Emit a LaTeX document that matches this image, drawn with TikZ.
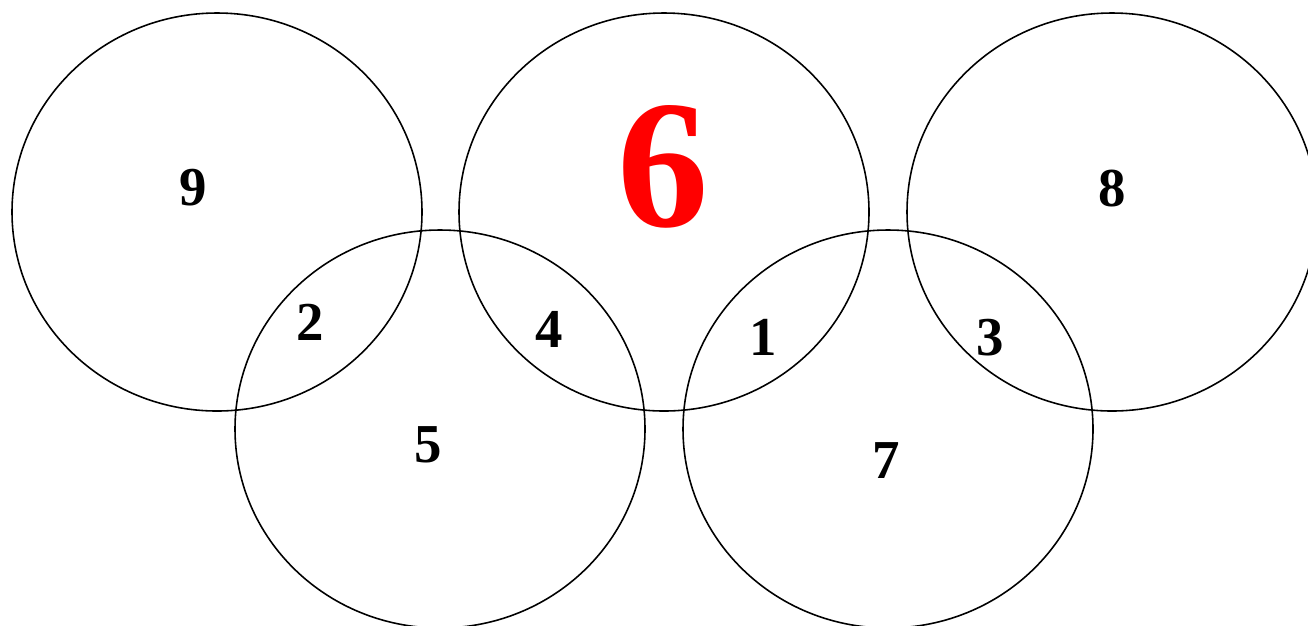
\documentclass[tikz,border=0pt]{standalone}
\usepackage{fontspec}
\setmainfont{Liberation Serif}
\tikzset{
  ring/.style={line width=0.45pt},
  num/.style={font=\fontsize{15.6}{18}\selectfont\bfseries, inner sep=0pt},
  bignum/.style={font=\fontsize{52}{56}\selectfont\bfseries, text=red, inner sep=0pt}
}
\begin{document}
\begin{tikzpicture}[scale=1.0]
\useasboundingbox (0,0) rectangle (13.08,6.25);
\draw[ring] (2.17,4.13) ellipse [x radius=2.05, y radius=1.99];
\draw[ring] (6.64,4.13) ellipse [x radius=2.05, y radius=1.99];
\draw[ring] (11.12,4.13) ellipse [x radius=2.05, y radius=1.99];
\draw[ring] (4.40,1.96) ellipse [x radius=2.05, y radius=1.99];
\draw[ring] (8.88,1.96) ellipse [x radius=2.05, y radius=1.99];

\node[num] (nine) at (1.93,4.37) {9};
\node[bignum] (six) at (6.63,4.58) {6};
\node[num] (eight) at (11.12,4.36) {8};
\node[num] (two) at (3.10,3.03) {2};
\node[num] (four) at (5.49,2.96) {4};
\node[num] (one) at (7.63,2.88) {1};
\node[num] (three) at (9.90,2.87) {3};
\node[num] (five) at (4.28,1.80) {5};
\node[num] (seven) at (8.86,1.64) {7};
\end{tikzpicture}
\end{document}
